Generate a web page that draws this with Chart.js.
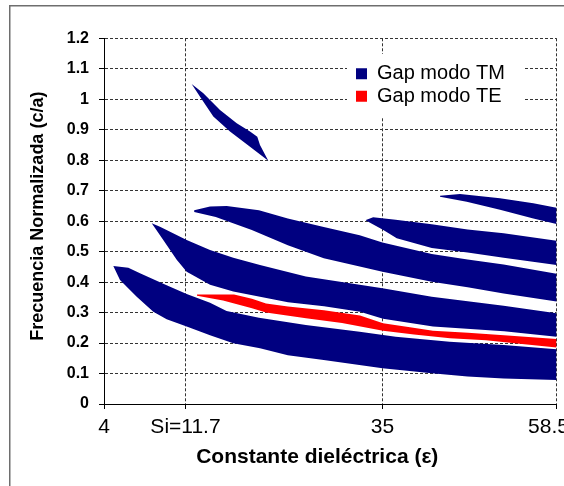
<!DOCTYPE html>
<html><head><meta charset="utf-8">
<script src="https://cdn.jsdelivr.net/npm/chart.js@4/dist/chart.umd.min.js"></script>
<style>html,body{margin:0;padding:0;background:#fff;overflow:hidden}canvas{display:block}</style>
</head><body>
<canvas id="c" width="564" height="486"></canvas>
<script>
// ---------- tick labels ----------
const xTickValues = [4, 11.7, 35, 58.5];
const xTickLabels = ['4', 'Si=11.7', '35', '58.5'];
const yTickValues = [0, 0.1, 0.2, 0.3, 0.4, 0.5, 0.6, 0.7, 0.8, 0.9, 1, 1.1, 1.2];
const yTickLabels = ['0', '0.1', '0.2', '0.3', '0.4', '0.5', '0.6', '0.7', '0.8', '0.9', '1', '1.1', '1.2'];

// ---------- series: [epsilon, normalized frequency] ----------
// TM gaps (each gap = upper edge + lower edge)
const tmGap1Upper = [[4.88,0.453],[6.30,0.447],[7.40,0.429],[9.92,0.390],[11.84,0.361],[14.60,0.332],[16.56,0.305],[20.39,0.283],[25.93,0.259],[32.30,0.237],[36.78,0.221],[44.06,0.204],[51.36,0.194],[58.5,0.180]];
const tmGap1Lower = [[4.88,0.453],[5.51,0.407],[7.09,0.352],[8.66,0.303],[9.92,0.278],[11.84,0.254],[14.60,0.226],[17.35,0.199],[20.51,0.183],[23.80,0.160],[28.04,0.144],[35.0,0.117],[41.65,0.101],[46.49,0.090],[51.36,0.084],[58.5,0.079]];

const tmGap2Upper = [[8.51,0.593],[9.29,0.582],[11.84,0.538],[14.60,0.505],[17.35,0.480],[20.51,0.456],[25.93,0.418],[32.30,0.391],[35.0,0.380],[41.65,0.352],[51.36,0.322],[58.5,0.298]];
const tmGap2Lower = [[8.51,0.593],[9.60,0.538],[10.87,0.473],[11.84,0.434],[14.60,0.391],[17.35,0.369],[20.51,0.352],[23.82,0.334],[28.08,0.321],[32.34,0.303],[35.07,0.280],[41.82,0.254],[51.42,0.239],[58.5,0.221]];

const tmGap3Upper = [[12.73,0.636],[14.60,0.648],[16.57,0.650],[20.39,0.636],[23.80,0.609],[28.05,0.581],[32.30,0.554],[34.99,0.530],[41.65,0.492],[46.49,0.474],[51.36,0.458],[58.5,0.427]];
const tmGap3Lower = [[12.73,0.630],[15.28,0.614],[19.54,0.571],[23.80,0.521],[28.05,0.478],[32.30,0.451],[34.99,0.434],[41.65,0.401],[46.49,0.383],[51.36,0.363],[58.5,0.336]];

const tmGap4Upper = [[33.04,0.604],[33.89,0.613],[36.78,0.605],[41.65,0.590],[46.49,0.573],[51.36,0.560],[58.5,0.536]];
const tmGap4Lower = [[33.04,0.602],[35.11,0.571],[36.92,0.544],[41.65,0.512],[46.49,0.497],[51.36,0.480],[58.5,0.456]];

const tmGap5Upper = [[42.77,0.683],[45.47,0.689],[50.87,0.675],[55.37,0.659],[58.5,0.644]];
const tmGap5Lower = [[42.77,0.680],[46.37,0.664],[50.87,0.637],[55.37,0.609],[58.5,0.591]];

const tmGap6Upper = [[12.43,1.050],[13.81,1.020],[15.78,0.965],[17.76,0.921],[19.33,0.894],[20.19,0.877],[20.51,0.850],[21.49,0.798]];
const tmGap6Lower = [[12.43,1.050],[13.42,1.008],[14.99,0.943],[16.96,0.894],[19.33,0.844],[21.49,0.798]];

// TE gap
const teGapUpper = [[13.06,0.359],[17.44,0.359],[19.56,0.345],[21.22,0.330],[23.82,0.320],[28.08,0.308],[32.34,0.290],[35.07,0.265],[38.71,0.252],[41.82,0.240],[46.55,0.234],[51.41,0.226],[58.5,0.213]];
const teGapLower = [[13.06,0.355],[16.14,0.340],[19.56,0.314],[21.22,0.300],[25.95,0.281],[30.21,0.266],[35.07,0.240],[39.25,0.228],[44.12,0.216],[48.98,0.209],[53.84,0.197],[58.5,0.185]];

const TM_COLOR = '#000080';
const TE_COLOR = '#ff0000';

// ---------- category-like x axis (unequal spacing between labelled values) ----------
const X_ANCHORS = [4, 11.7, 35, 58.5];
const X_FRACS = [0, 0.1801, 0.6155, 1];
function warp(v) {
  for (let i = 0; i < X_ANCHORS.length - 1; i++) {
    if (v <= X_ANCHORS[i + 1] || i === X_ANCHORS.length - 2) {
      const t = (v - X_ANCHORS[i]) / (X_ANCHORS[i + 1] - X_ANCHORS[i]);
      return X_FRACS[i] + t * (X_FRACS[i + 1] - X_FRACS[i]);
    }
  }
  return 0;
}
function unwarp(f) {
  for (let i = 0; i < X_FRACS.length - 1; i++) {
    if (f <= X_FRACS[i + 1] || i === X_FRACS.length - 2) {
      const t = (f - X_FRACS[i]) / (X_FRACS[i + 1] - X_FRACS[i]);
      return X_ANCHORS[i] + t * (X_ANCHORS[i + 1] - X_ANCHORS[i]);
    }
  }
  return X_ANCHORS[0];
}
class WarpScale extends Chart.LinearScale {
  static id = 'warp';
  getPixelForValue(value) {
    if (value === null || value === undefined || isNaN(value)) return NaN;
    return this.getPixelForDecimal(warp(value));
  }
  getValueForPixel(pixel) { return unwarp(this.getDecimalForPixel(pixel)); }
  _computeLabelItems(chartArea) {
    const items = super._computeLabelItems(chartArea);
    const last = items[items.length - 1];
    if (last && last.options && last.options.translation) last.options.translation[0] -= 8;
    return items;
  }
  drawTitle() { this.ctx.save(); this.ctx.translate(-13, 0); super.drawTitle(); this.ctx.restore(); }
}
class YScale extends Chart.LinearScale {
  static id = 'yshift';
  drawTitle() { this.ctx.save(); this.ctx.translate(0, -5); super.drawTitle(); this.ctx.restore(); }
}
Chart.register(WarpScale, YScale);

function poly(upper, lower) {
  return upper.concat(lower.slice().reverse()).map(p => ({x: p[0], y: p[1]}));
}
function band(label, color, upper, lower) {
  return {
    label, data: poly(upper, lower),
    backgroundColor: color, borderColor: color, borderWidth: 0,
    pointRadius: 0, pointHoverRadius: 0, tension: 0, fill: 'shape'
  };
}
const datasets = [
  band('Gap modo TM', TM_COLOR, tmGap1Upper, tmGap1Lower),
  band('Gap modo TM', TM_COLOR, tmGap2Upper, tmGap2Lower),
  band('Gap modo TM', TM_COLOR, tmGap3Upper, tmGap3Lower),
  band('Gap modo TM', TM_COLOR, tmGap4Upper, tmGap4Lower),
  band('Gap modo TM', TM_COLOR, tmGap5Upper, tmGap5Lower),
  band('Gap modo TM', TM_COLOR, tmGap6Upper, tmGap6Lower),
  band('Gap modo TE', TE_COLOR, teGapUpper, teGapLower)
];
const TE_INDEX = datasets.length - 1;

Chart.defaults.font.family = "'Liberation Sans', Arial, sans-serif";
Chart.defaults.color = '#000';

const frame = {
  id: 'frame',
  beforeDraw(chart) {
    const c = chart.ctx;
    c.save(); c.strokeStyle = '#6e6e6e'; c.lineWidth = 1.5;
    c.strokeRect(9.75, 5.75, 1000, 1000); c.restore();
  }
};
const legendPlace = {
  id: 'legendPlace',
  afterLayout(chart) {
    const lg = chart.legend; if (!lg) return;
    lg.left = 353.6; lg.top = 61.4; lg.width = 200; lg.height = 100;
    lg.right = lg.left + lg.width; lg.bottom = lg.top + lg.height;
  },
  beforeDatasetsDraw(chart) {
    const c = chart.ctx;
    c.save(); c.fillStyle = '#fff'; c.fillRect(347, 54, 176, 63); c.restore();
    chart.legend.draw();
  }
};

new Chart(document.getElementById('c'), {
  type: 'line',
  data: { datasets },
  plugins: [frame, legendPlace],
  options: {
    responsive: false, animation: false, events: [],
    layout: { padding: { left: 0, right: 7.5, top: 38.3, bottom: 0 } },
    plugins: {
      tooltip: { enabled: false },
      legend: {
        position: 'chartArea', align: 'start',
        labels: {
          boxWidth: 11, boxHeight: 11, padding: 2.4, color: '#000',
          font: { size: 20 },
          filter: (item) => item.datasetIndex === 0 || item.datasetIndex === TE_INDEX
        }
      }
    },
    scales: {
      x: {
        type: 'warp', position: 'bottom', min: 4, max: 58.5,
        afterBuildTicks: s => { s.ticks = xTickValues.map(v => ({ value: v })); },
        afterFit: s => { s.height = 82; s.paddingLeft = 0; s.paddingRight = 0; },
        ticks: { autoSkip: false, maxRotation: 0, minRotation: 0, padding: 6, color: '#000',
                 font: { size: 21 }, callback: (v, i) => xTickLabels[i] },
        grid: { color: c => (c.tick && c.tick.value === 4) ? 'rgba(0,0,0,0)' : '#333',
                lineWidth: 1, tickLength: 5, tickColor: '#000', tickWidth: 1 },
        border: { display: true, color: '#000', width: 1, dash: [3, 2] },
        title: { display: true, text: 'Constante dieléctrica (ε)', color: '#000',
                 font: { size: 21, weight: 'bold' }, padding: { top: 0, bottom: 16 } }
      },
      y: {
        type: 'yshift', position: 'left', min: 0, max: 1.2,
        afterBuildTicks: s => { s.ticks = yTickValues.map(v => ({ value: v })); },
        afterFit: s => { s.width = 104; s.paddingTop = 0; s.paddingBottom = 0; },
        ticks: { autoSkip: false, padding: 10, color: '#000', font: { size: 16, weight: 'bold' },
                 callback: (v, i) => yTickLabels[i] },
        grid: { color: c => (c.tick && c.tick.value === 0) ? 'rgba(0,0,0,0)' : '#333',
                lineWidth: 1, tickLength: 5, tickColor: '#000', tickWidth: 1 },
        border: { display: true, color: '#000', width: 1, dash: [3, 2] },
        title: { display: true, text: 'Frecuencia Normalizada (c/a)', color: '#000',
                 font: { size: 18, weight: 'bold' }, padding: { top: 27, bottom: 0 } }
      }
    }
  }
});
</script>
</body></html>
